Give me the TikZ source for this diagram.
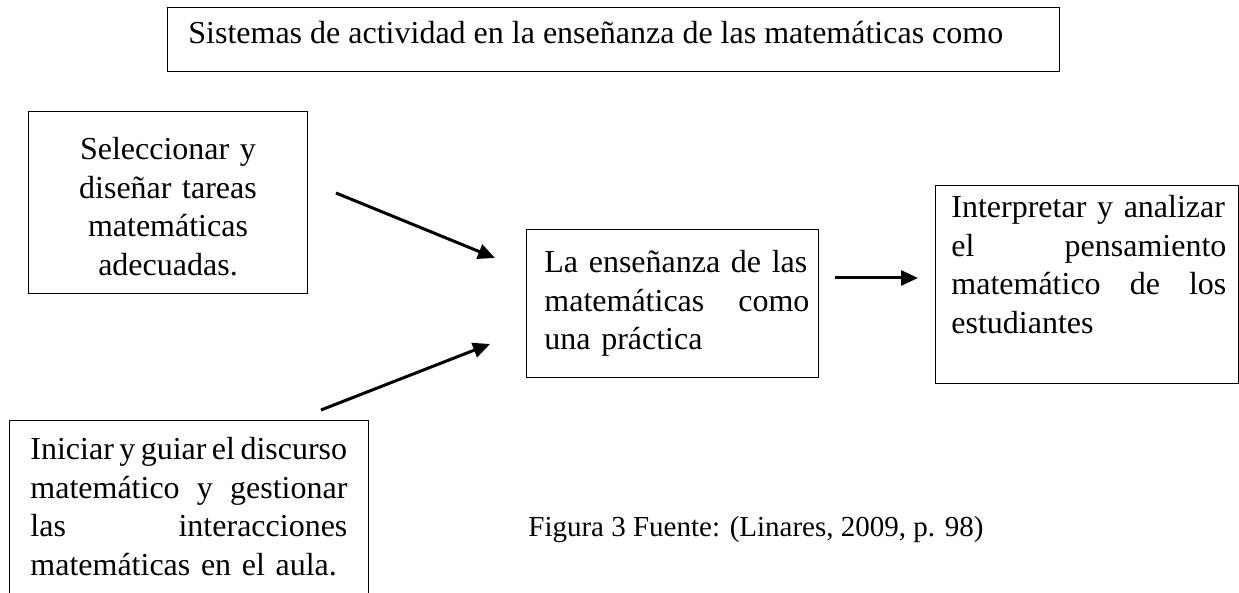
\documentclass[tikz,border=0pt]{standalone}
\usepackage{fontspec}
\setmainfont{Liberation Serif}
\usetikzlibrary{arrows.meta}

\begin{document}
\begin{tikzpicture}[x=0.5pt,y=-0.5pt]
    \tikzstyle{box}=[draw,line width=0.6pt,rectangle,inner sep=0pt,anchor=north west]
    \tikzstyle{txt}=[inner sep=0pt,anchor=base west,align=left,font=\fontsize{16}{19.25}\selectfont]
    \tikzstyle{flecha}=[line width=1.5pt,-{Triangle[length=8.5pt,width=7.5pt]}]
\useasboundingbox (0,0) rectangle (1239,593);

% Titulo
\node[box,minimum width=446pt,minimum height=32pt] (titulo) at (167,7) {};
\node[txt] (titulo-t) at (188,44) {Sistemas de actividad en la enseñanza de las matemáticas como};

% Cajas
\node[box,minimum width=139.5pt,minimum height=91pt] (sel) at (28,111) {};
\node[txt,anchor=base,align=center,text width=135pt] (sel-t) at (168,160)
  {Seleccionar y\\ diseñar tareas\\ matemáticas\\ adecuadas.};

\node[box,minimum width=146pt,minimum height=74pt] (ens) at (526,229) {};
\node[txt,text width=132.5pt] (ens-t) at (544,273)
  {La enseñanza de las\\ matemáticas\hfill como\\ una práctica};

\node[box,minimum width=151.5pt,minimum height=99pt] (interp) at (935,185) {};
\node[txt,text width=137.5pt] (interp-t) at (951,218)
  {Interpretar y analizar\\ el\hfill pensamiento\\ matemático\hfill de\hfill los\\ estudiantes};

\node[box,minimum width=179.5pt,minimum height=90pt] (disc) at (9,420) {};
\node[txt,text width=158.5pt] (disc-t) at (30,460)
  {{\spaceskip=0.17em\relax Iniciar y guiar el discurso}\\ matemático\hfill y\hfill gestionar\\ las\hfill interacciones\\ matemáticas en el aula.};

% Fuente
\node[txt,font=\fontsize{14.5}{17}\selectfont] (fuente) at (528,537) {Figura 3 Fuente: (Linares, 2009, p. 98)};

% Flechas
\coordinate (f1a) at (336,193);
\coordinate (f1b) at (495,258);
\coordinate (f2a) at (321,410);
\coordinate (f2b) at (490,344);
\coordinate (f3a) at (835,278);
\coordinate (f3b) at (918,278);
\draw[flecha] (f1a) -- (f1b);
\draw[flecha] (f2a) -- (f2b);
\draw[flecha] (f3a) -- (f3b);

\end{tikzpicture}
\end{document}
